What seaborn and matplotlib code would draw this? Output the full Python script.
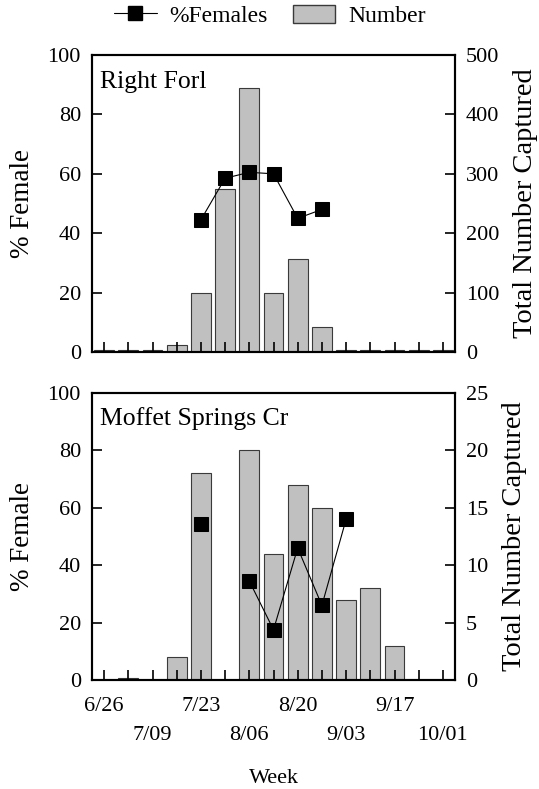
import numpy as np
import pandas as pd
import matplotlib
matplotlib.use("Agg")
import matplotlib.pyplot as plt
import seaborn as sns
from matplotlib.lines import Line2D
from matplotlib.patches import Patch

nan = np.nan

# ---- data ----
weeks = ['6/26', '7/02', '7/09', '7/16', '7/23', '7/30', '8/06', '8/13',
         '8/20', '8/27', '9/03', '9/10', '9/17', '9/24', '10/01']
tick_labels = ['6/26', '7/09', '7/23', '8/06', '8/20', '9/03', '9/17', '10/01']

rf_number = [3, 3, 3, 12, 100, 275, 445, 100, 157, 42, 3, 3, 3, 3, 3]
rf_females = [nan, nan, nan, nan, 44.5, 58.5, 60.5, 60, 45, 48,
              nan, nan, nan, nan, nan]

ms_number = [0, 0.15, 0, 2, 18, 0, 20, 11, 17, 15, 7, 8, 3, 0, 0]
ms_females = [nan, nan, nan, nan, 54.5, nan, 34.5, 17.5, 46, 26, 56,
              nan, nan, nan, nan]

titles = ['Right Forl', 'Moffet Springs Cr']

# ---- style ----
sns.set_theme(style='ticks')
plt.rcParams['font.family'] = ['Liberation Serif', 'DejaVu Serif']
plt.rcParams['axes.linewidth'] = 1.5
plt.rcParams['text.color'] = 'black'
plt.rcParams['axes.labelcolor'] = 'black'
plt.rcParams['xtick.color'] = 'black'
plt.rcParams['ytick.color'] = 'black'

BAR = '#c0c0c0'
EDGE = '#3a3a3a'
TICK_FS = 16
LAB_FS = 19.5
RLAB_FS = 20.5
TITLE_FS = 18.5

W, H = 539, 789
fig = plt.figure(figsize=(W / 100, H / 100), dpi=100)


def rect(l, r, t, b):
    return [l / W, 1 - b / H, (r - l) / W, (b - t) / H]


def panel(rc, number, females, nmax, nstep, title, show_x):
    ax = fig.add_axes(rc)
    df = pd.DataFrame({'week': weeks, 'number': number})
    sns.barplot(data=df, x='week', y='number', order=weeks, color=BAR,
                saturation=1, width=0.82, edgecolor=EDGE, linewidth=0.8,
                errorbar=None, ax=ax)
    ax.set_axisbelow(False)

    ax2 = ax.twinx()
    fem = pd.DataFrame({'pos': np.arange(len(weeks)), 'pct': females})
    fem['seg'] = fem['pct'].isna().cumsum()
    fem = fem.dropna()
    sns.lineplot(data=fem, x='pos', y='pct', units='seg', estimator=None,
                 color='black', marker='s', markersize=9.6, linewidth=0.8,
                 markeredgecolor='black', legend=False, ax=ax2)

    # right axis: number captured (bars)
    ax.set_ylim(0, nmax)
    ax.set_yticks(np.arange(0, nmax + 1, nstep))
    ax.yaxis.tick_right()
    ax.yaxis.set_label_position('right')
    ax.set_ylabel('Total Number Captured', fontsize=RLAB_FS, labelpad=10,
                  color='black')

    # left axis: percent female (line)
    ax2.set_ylim(0, 100)
    ax2.set_yticks(np.arange(0, 101, 20))
    ax2.yaxis.tick_left()
    ax2.yaxis.set_label_position('left')
    ax2.set_ylabel('% Female', fontsize=LAB_FS, labelpad=9, color='black')
    ax.set_xlim(-0.5, len(weeks) - 0.5)

    for a in (ax, ax2):
        for s in a.spines.values():
            s.set_visible(True)
            s.set_linewidth(1.5)
            s.set_color('black')
        a.tick_params(axis='y', direction='in', length=7, width=1.2,
                      labelsize=TICK_FS, pad=8, colors='black')
    ax2.tick_params(axis='x', bottom=False, labelbottom=False, top=False)

    ax.set_xticks(range(len(weeks)))
    ax.tick_params(axis='x', direction='in', length=7, width=1.2,
                   labelsize=TICK_FS, pad=12, colors='black', top=False)
    ax2.set_xlabel('')
    if show_x:
        labs = []
        for i in range(len(weeks)):
            if i % 2:
                labs.append('')
            else:
                k = i // 2
                labs.append(tick_labels[k] if k % 2 == 0 else '\n' + tick_labels[k])
        ax.set_xticklabels(labs)
        for t in ax.get_xticklabels():
            t.set_linespacing(1.75)
        ax.set_xlabel('Week', fontsize=TICK_FS, labelpad=17, color='black')
    else:
        ax.set_xticklabels([''] * len(weeks))
        ax.set_xlabel('')
    ax2.text(0.022, 0.91, title, transform=ax2.transAxes, ha='left',
             va='center', fontsize=TITLE_FS, color='black')
    return ax, ax2


panel(rect(92, 455, 55, 352), rf_number, rf_females, 500, 100, titles[0], False)
panel(rect(92, 455, 393, 680), ms_number, ms_females, 25, 5, titles[1], True)

handles = [Line2D([], [], color='black', marker='s', markersize=9.6, linewidth=0.8),
           Patch(facecolor=BAR, edgecolor=EDGE, linewidth=1)]
fig.legend(handles, ['%Females', 'Number'], loc='center',
           bbox_to_anchor=(270 / W, 1 - 16 / H), ncol=2, frameon=False,
           fontsize=17, handlelength=1.8, handleheight=0.8,
           columnspacing=1.05, handletextpad=0.55, labelcolor='black')

fig.savefig('out.png', dpi=100)
